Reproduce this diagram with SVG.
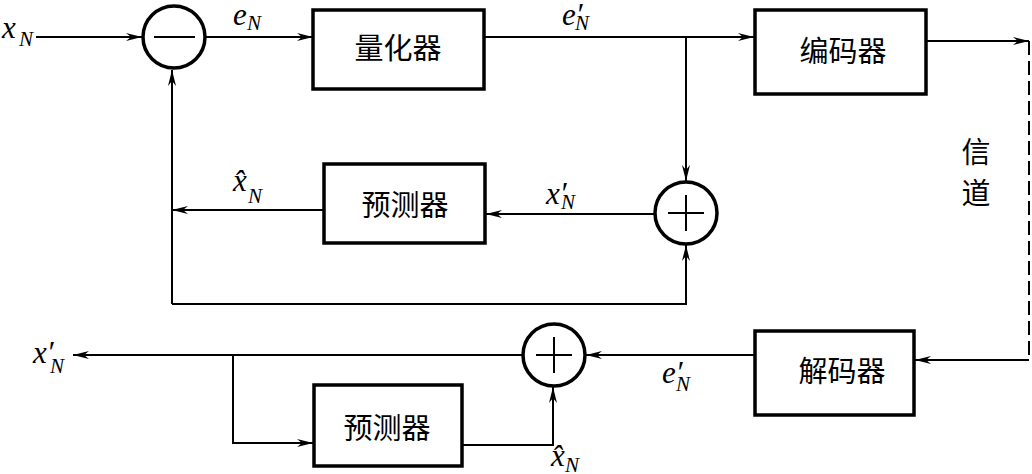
<svg xmlns="http://www.w3.org/2000/svg" width="1032" height="474" viewBox="0 0 1032 474">
<defs>
<marker id="arr" viewBox="0 0 16 8" refX="16" refY="4" markerWidth="16" markerHeight="8" markerUnits="userSpaceOnUse" orient="auto">
<path d="M0,0 L16,4 L0,8 L5,4 Z" fill="#000"/>
</marker>
<style>
.box{fill:#fff;stroke:#000;stroke-width:3.5}
.circ{fill:#fff;stroke:#000;stroke-width:3.5}
.sym{stroke:#000;stroke-width:2}
.ln{fill:none;stroke:#000;stroke-width:2}
.ar{marker-end:url(#arr)}
.dash{fill:none;stroke:#000;stroke-width:2;stroke-dasharray:14 6}
.cjk{font-family:"Noto Sans CJK SC","Noto Sans",sans-serif;font-size:29px;fill:#000;text-anchor:middle}
.m{font-family:"Liberation Serif","DejaVu Serif",serif;font-style:italic;font-size:31px;fill:#000}
.s{font-size:21px}
</style>
</defs>
<rect width="1032" height="474" fill="#fff"/>

<g id="connectors">
<line class="ln ar" x1="36" y1="37" x2="142" y2="37"/>
<line class="ln ar" x1="206" y1="37" x2="313" y2="37"/>
<line class="ln ar" x1="484" y1="37" x2="754" y2="37"/>
<line class="ln ar" x1="686" y1="37" x2="686" y2="181"/>
<line class="ln ar" x1="926" y1="41" x2="1029" y2="41"/>
<line class="dash" x1="1029" y1="41" x2="1029" y2="360"/>
<line class="ln ar" x1="1029" y1="360" x2="915" y2="360"/>
<line class="ln ar" x1="655" y1="214" x2="486" y2="214"/>
<line class="ln ar" x1="324" y1="210" x2="172" y2="210"/>
<line class="ln ar" x1="172" y1="304" x2="172" y2="70"/>
<polyline class="ln ar" points="172,304 686,304 686,245"/>
<line class="ln ar" x1="755" y1="355" x2="586" y2="355"/>
<line class="ln ar" x1="523" y1="355" x2="73" y2="355"/>
<polyline class="ln ar" points="233,355 233,443 313,443"/>
<polyline class="ln ar" points="462,445 553,445 553,387"/>
</g>

<g id="subtract">
<circle class="circ" cx="174" cy="37" r="31"/>
<line class="sym" x1="154" y1="37" x2="195" y2="37"/>
</g>

<g id="quantizer">
<rect class="box" x="313" y="10" width="171" height="79"/>
<text class="cjk" x="398" y="59">量化器</text>
</g>

<g id="encoder">
<rect class="box" x="755" y="10" width="171" height="84"/>
<text class="cjk" x="843" y="62">编码器</text>
</g>

<g id="adder1">
<circle class="circ" cx="686" cy="213" r="31"/>
<line class="sym" x1="668" y1="213" x2="704" y2="213"/>
<line class="sym" x1="686" y1="195" x2="686" y2="231"/>
</g>

<g id="predictor1">
<rect class="box" x="324" y="164" width="161" height="79"/>
<text class="cjk" x="405" y="216">预测器</text>
</g>

<g id="decoder">
<rect class="box" x="755" y="331" width="159" height="84"/>
<text class="cjk" x="842" y="382">解码器</text>
</g>

<g id="adder2">
<circle class="circ" cx="554" cy="355" r="31"/>
<line class="sym" x1="536" y1="355" x2="572" y2="355"/>
<line class="sym" x1="554" y1="337" x2="554" y2="373"/>
</g>

<g id="predictor2">
<rect class="box" x="314" y="385" width="148" height="81"/>
<text class="cjk" x="387" y="439">预测器</text>
</g>

<g id="channel">
<text class="cjk" x="976" y="163" font-size="28">信</text>
<text class="cjk" x="976" y="204" font-size="28">道</text>
</g>

<g id="labels" font-family="Liberation Serif" font-style="italic">
<text class="m" x="2" y="38" font-size="34">x<tspan class="s" x="19" y="46">N</tspan></text>
<text class="m" x="233" y="25">e<tspan class="s" x="247" y="30">N</tspan></text>
<text class="m" x="562" y="25">e′<tspan class="s" x="575" y="30">N</tspan></text>
<text class="m" x="233" y="191">x̂<tspan class="s" x="248" y="203">N</tspan></text>
<text class="m" x="546" y="204">x′<tspan class="s" x="561" y="209">N</tspan></text>
<text class="m" x="33" y="363">x′<tspan class="s" x="50" y="373">N</tspan></text>
<text class="m" x="662" y="383">e′<tspan class="s" x="676" y="391">N</tspan></text>
<text class="m" x="551" y="466">x̂<tspan class="s" x="565" y="472">N</tspan></text>
</g>
</svg>
